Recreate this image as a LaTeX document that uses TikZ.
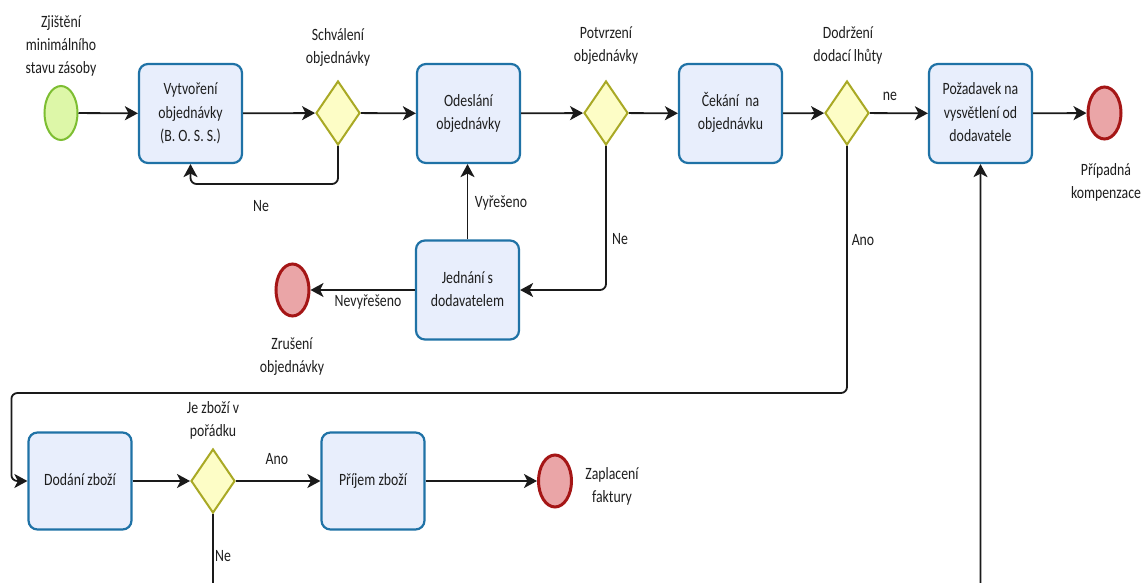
\documentclass[tikz,border=0pt]{standalone}
\usepackage{fontspec}
\setmainfont{Carlito}
\usepackage{graphicx}
\usetikzlibrary{shapes.geometric,arrows.meta}

\definecolor{taskfill}{HTML}{E8EEFC}
\definecolor{taskdraw}{HTML}{1F72A6}
\definecolor{gwfill}{HTML}{FDFDC6}
\definecolor{gwdraw}{HTML}{A9A925}
\definecolor{startfill}{HTML}{DDF7A8}
\definecolor{startdraw}{HTML}{7DBE32}
\definecolor{endfill}{HTML}{EAA5A7}
\definecolor{enddraw}{HTML}{A51616}
\definecolor{ink}{HTML}{1E1E1E}
\definecolor{flowline}{HTML}{1A1A1A}

% text block, stretched vertically like the rest of the drawing
\newcommand{\tall}[1]{\scalebox{1}[1.25]{\begin{tabular}{@{}c@{}}#1\end{tabular}}}

\begin{document}
\begin{tikzpicture}[x=1pt,y=-1pt,
  font=\fontsize{13.8}{18.6}\selectfont, text=ink,
  >={Stealth[length=13pt,width=14pt,inset=3.5pt]},
  task/.style={draw=taskdraw, fill=taskfill, line width=2.2pt, rounded corners=9pt,
               minimum width=103pt, minimum height=99pt, inner sep=0pt},
  gw/.style={diamond, draw=gwdraw, fill=gwfill, line width=2pt,
             minimum width=44pt, minimum height=64pt, inner sep=0pt},
  startev/.style={ellipse, draw=startdraw, fill=startfill, line width=2pt,
                  minimum width=33pt, minimum height=54pt, inner sep=0pt},
  endev/.style={ellipse, draw=enddraw, fill=endfill, line width=3pt,
                minimum width=33pt, minimum height=52pt, inner sep=0pt},
  lbl/.style={inner sep=0pt},
  flow/.style={draw=flowline, line width=1.8pt, ->},
  elbow/.style={rounded corners=6pt}
]
\useasboundingbox (0,0) rectangle (1141,583);
\clip (0,0) rectangle (1141,583);
\fill[white] (0,0) rectangle (1141,583);

% ---- top row ----
\node[startev] (start) at (61,113) {};
\node[lbl] (startL) at (61,46) {\tall{Zjištění\\minimálního\\stavu zásoby}};
\node[task] (t1) at (190.5,113.5) {\tall{Vytvoření\\objednávky\\(B. O. S. S.)}};
\node[gw] (gw1) at (338,113) {};
\node[lbl] (gw1L) at (338,47) {\tall{Schválení\\objednávky}};
\node[task] (ode) at (468.5,113.5) {\tall{Odeslání\\objednávky}};
\node[gw] (gw2) at (606,113) {};
\node[lbl] (gw2L) at (606,45) {\tall{Potvrzení\\objednávky}};
\node[task] (cek) at (730.5,113.5) {\tall{Čekání~ na\\objednávku}};
\node[gw] (gw3) at (847,113) {};
\node[lbl] (gw3L) at (848,45) {\tall{Dodržení\\dodací lhůty}};
\node[task] (poz) at (980.5,113.5) {\tall{Požadavek na\\vysvětlení od\\dodavatele}};
\node[endev] (end1) at (1104.5,113) {};
\node[lbl] (end1L) at (1106,182) {\tall{Případná\\kompenzace}};

% ---- middle ----
\node[task] (jed) at (467.5,290) {\tall{Jednání s\\dodavatelem}};
\node[endev] (zru) at (292.5,290) {};
\node[lbl] (zruL) at (292,356) {\tall{Zrušení\\objednávky}};

% ---- bottom row ----
\node[task, minimum height=97pt] (dod) at (80,481) {\tall{Dodání zboží}};
\node[gw] (gw4) at (213,481) {};
\node[lbl] (gw4L) at (213,420) {\tall{Je zboží v\\pořádku}};
\node[task, minimum height=97pt] (pri) at (373,481) {\tall{Příjem zboží}};
\node[endev] (end2) at (555,481) {};
\node[lbl] (end2L) at (612,486) {\tall{Zaplacení\\faktury}};

% ---- sequence flows ----
\draw[flow] (start) -- (t1);
\draw[flow] (t1) -- (gw1);
\draw[flow] (gw1) -- (ode);
\draw[flow] (ode) -- (gw2);
\draw[flow] (gw2) -- (cek);
\draw[flow] (cek) -- (gw3);
\draw[flow] (gw3) -- (poz);
\draw[flow] (poz) -- (end1);

\draw[flow] (gw1.south) [elbow] -- ++(0,38) -| (t1.south);
\draw[flow] (gw2.south) [elbow] |- (jed.east);
\draw[flow] (jed.north) -- (jed.north |- ode.south);
\draw[flow] (jed.west) -- (zru.east);

\draw[flow] (gw3.south) [elbow] -- ++(0,247) -| ([xshift=-16pt]dod.west) -- (dod.west);

\draw[flow] (dod) -- (gw4);
\draw[flow] (gw4) -- (pri);
\draw[flow] (pri) -- (end2);
\draw[flow] (gw4.south) [elbow] -- ++(0,82) -| (poz.south);

% ---- flow labels ----
\node[lbl] (neA) at (890,96) {\tall{ne}};
\node[lbl] (neB) at (261,207) {\tall{Ne}};
\node[lbl] (vyr) at (501,203) {\tall{Vyřešeno}};
\node[lbl] (neC) at (620,240) {\tall{Ne}};
\node[lbl] (nevyr) at (368,302) {\tall{Nevyřešeno}};
\node[lbl] (anoA) at (863,241) {\tall{Ano}};
\node[lbl] (anoB) at (277,460) {\tall{Ano}};
\node[lbl] (neD) at (223,557) {\tall{Ne}};
\end{tikzpicture}
\end{document}
